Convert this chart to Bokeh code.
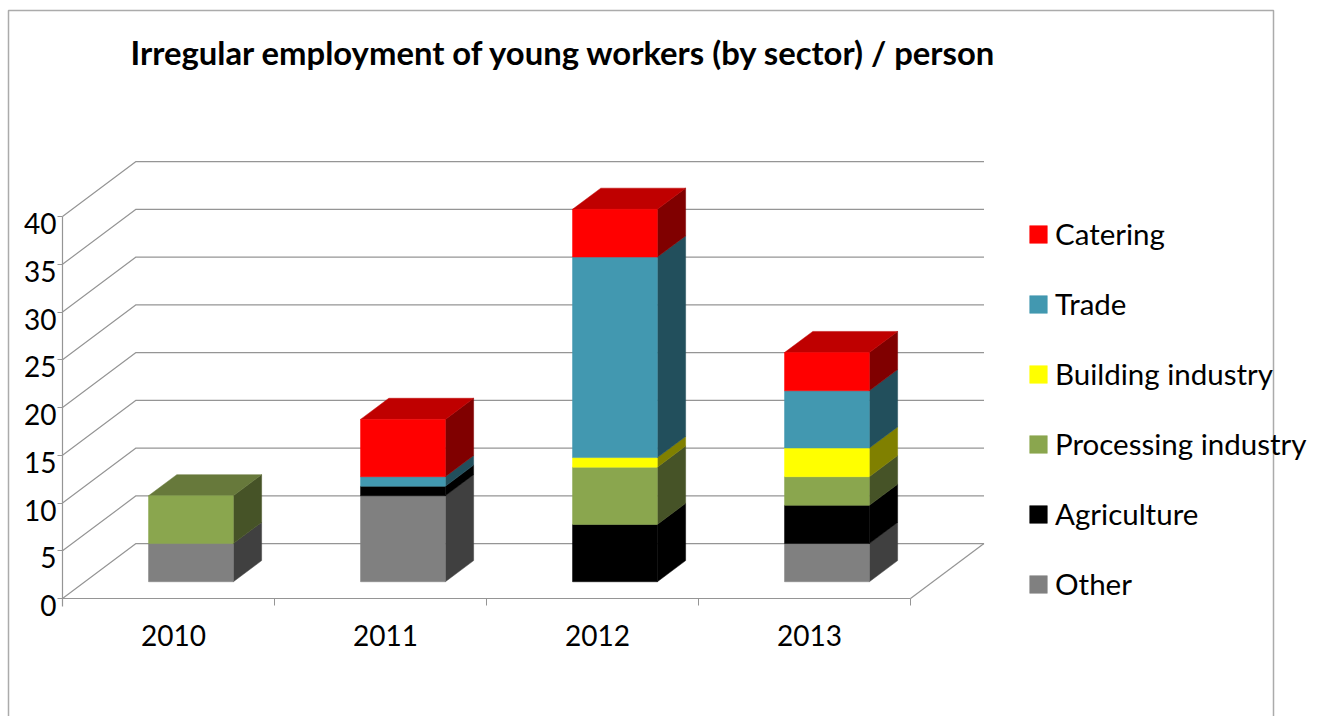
from bokeh.embed import file_html
from bokeh.resources import INLINE
from bokeh.plotting import figure
from bokeh.models import (BoxAnnotation, FixedTicker, Label, Legend, LegendItem, LinearAxis,
                          Range1d)

years = ["2010", "2011", "2012", "2013"]
other = [4, 9, 0, 4]
agriculture = [0, 1, 6, 4]
processing = [5, 0, 6, 3]
building = [0, 0, 1, 3]
trade = [0, 1, 21, 6]
catering = [0, 6, 5, 4]
value_ticks = [0, 5, 10, 15, 20, 25, 30, 35, 40]

# Stack order runs from the floor upwards; each series has front, top and side tints.
series = [
    ("Other", other, "#808080", "#606060", "#404040"),
    ("Agriculture", agriculture, "#000000", "#000000", "#000000"),
    ("Processing industry", processing, "#8AA64E", "#67793B", "#465327"),
    ("Building industry", building, "#FFFF00", "#BFBF00", "#808000"),
    ("Trade", trade, "#4298B0", "#317284", "#224F5C"),
    ("Catering", catering, "#FF0000", "#BF0000", "#800000"),
]

FONT = "Lato"
GRID = "#959595"
PAGE_W, PAGE_H = 1323, 716
ORIGIN_X, ORIGIN_Y = 62, 598   # where category 0 / value 0 falls on the page
UNIT_X = 212.0        # pixels per category
UNIT_Y = 9.55         # pixels per value unit
DEPTH_X = 0.3467      # oblique depth of the chart box, in category units
DEPTH_Y = 5.75        # oblique depth of the chart box, in value units
BAR_WIDTH = 0.40
NEAR, FAR = 0.305, 0.69
Y_LABEL_SHIFT = 0.75  # value labels sit slightly below their tick marks
X_LABEL_SHIFT = 0.024 # category labels sit slightly right of the category centre

p = figure(width=PAGE_W, height=PAGE_H, output_backend="svg", toolbar_location=None,
           x_axis_type=None, y_axis_type=None,
           x_range=Range1d(-ORIGIN_X / UNIT_X, (PAGE_W - ORIGIN_X) / UNIT_X),
           y_range=Range1d(-(PAGE_H - ORIGIN_Y) / UNIT_Y, ORIGIN_Y / UNIT_Y),
           min_border=0, outline_line_color=None,
           background_fill_color="white", border_fill_color="white")
p.grid.visible = False


def project(x, v, depth):
    """Oblique projection of a point at category x, value v and depth 0..1."""
    return x + depth * DEPTH_X, v + depth * DEPTH_Y


# Back wall and floor lines
wall_xs, wall_ys = [], []
for v in value_ticks:
    bx, by = project(0, v, 1)
    ex, ey = project(len(years), v, 1)
    wall_xs.append([0, bx, ex])
    wall_ys.append([v, by, ey])
fx, fy = project(len(years), 0, 1)
wall_xs.append([len(years), fx])
wall_ys.append([0, fy])
p.multi_line(wall_xs, wall_ys, line_color=GRID, line_width=1.2)


def face(x0, x1, v0, v1, d0, d1):
    pts = [project(x0, v0, d0), project(x1, v0, d0), project(x1, v1, d1), project(x0, v1, d1)]
    return [q[0] for q in pts], [q[1] for q in pts]


def side(x, v0, v1):
    pts = [project(x, v0, NEAR), project(x, v0, FAR), project(x, v1, FAR), project(x, v1, NEAR)]
    return [q[0] for q in pts], [q[1] for q in pts]


totals = [sum(s[1][i] for s in series) for i in range(len(years))]
legend_items = []
running = [0] * len(years)
for name, vals, front_c, top_c, side_c in series:
    fr_x, fr_y, si_x, si_y, to_x, to_y = [], [], [], [], [], []
    for i, val in enumerate(vals):
        if val == 0:
            continue
        left = i + 0.5 - BAR_WIDTH / 2
        right = i + 0.5 + BAR_WIDTH / 2
        lo = running[i]
        hi = lo + val
        a, b = face(left, right, lo, hi, NEAR, NEAR)
        fr_x.append(a)
        fr_y.append(b)
        a, b = side(right, lo, hi)
        si_x.append(a)
        si_y.append(b)
        if hi == totals[i]:
            a, b = face(left, right, hi, hi, NEAR, FAR)
            to_x.append(a)
            to_y.append(b)
        running[i] = hi
    p.patches(si_x, si_y, fill_color=side_c, line_color=side_c, line_width=0.5)
    if to_x:
        p.patches(to_x, to_y, fill_color=top_c, line_color=top_c, line_width=0.5)
    r = p.patches(fr_x, fr_y, fill_color=front_c, line_color=front_c, line_width=0.5)
    legend_items.append(LegendItem(label=name, renderers=[r]))

# Value axis: marks as minor ticks, labels on majors nudged just below them
y_label_pos = [v - Y_LABEL_SHIFT for v in value_ticks]
y_axis = LinearAxis(ticker=FixedTicker(ticks=y_label_pos, minor_ticks=value_ticks),
                    bounds=(-Y_LABEL_SHIFT - 0.05, 40), fixed_location=0,
                    major_label_overrides={q: str(v) for q, v in zip(y_label_pos, value_ticks)},
                    axis_line_color=GRID, axis_line_width=1.2,
                    major_tick_line_color=None, major_tick_in=0, major_tick_out=5,
                    minor_tick_line_color=GRID, minor_tick_in=0, minor_tick_out=5,
                    major_label_standoff=1,
                    major_label_text_font=FONT, major_label_text_font_size="28px",
                    major_label_text_color="black")
p.add_layout(y_axis, "left")

# Category axis: tick marks sit between categories, labels at their centres
x_label_pos = [i + 0.5 + X_LABEL_SHIFT for i in range(len(years))]
x_axis = LinearAxis(ticker=FixedTicker(ticks=x_label_pos, minor_ticks=list(range(len(years) + 1))),
                    bounds=(0, len(years)), fixed_location=0,
                    major_label_overrides={c: y for c, y in zip(x_label_pos, years)},
                    axis_line_color=GRID, axis_line_width=1.2,
                    major_tick_line_color=None, major_tick_in=0, major_tick_out=7,
                    minor_tick_line_color=GRID, minor_tick_in=0, minor_tick_out=7,
                    major_label_standoff=19, major_label_text_font=FONT,
                    major_label_text_font_size="28px", major_label_text_color="black")
p.add_layout(x_axis, "below")

legend = Legend(items=legend_items[::-1], location=(1027, 115), orientation="vertical",
                glyph_width=22, glyph_height=22, label_standoff=6, spacing=35, padding=0, margin=0,
                label_text_font=FONT, label_text_font_size="29.5px", label_text_color="black",
                background_fill_alpha=0, border_line_color=None)
p.add_layout(legend, "center")

p.add_layout(Label(x=130, y=PAGE_H - 52, x_units="screen", y_units="screen",
                   text="Irregular employment of young workers (by sector) / person",
                   text_font=FONT, text_font_size="32.8px", text_font_style="bold",
                   text_color="black", text_baseline="middle", text_align="left"))

# Chart area border, open at the bottom edge of the page
p.add_layout(BoxAnnotation(left=8, right=1273, top=PAGE_H - 10, bottom=-40,
                           left_units="screen", right_units="screen",
                           top_units="screen", bottom_units="screen",
                           fill_alpha=0, line_color="#ABABAB", line_alpha=1, line_width=1.5,
                           level="overlay"))

open("out.html", "w").write(file_html(p, INLINE))
